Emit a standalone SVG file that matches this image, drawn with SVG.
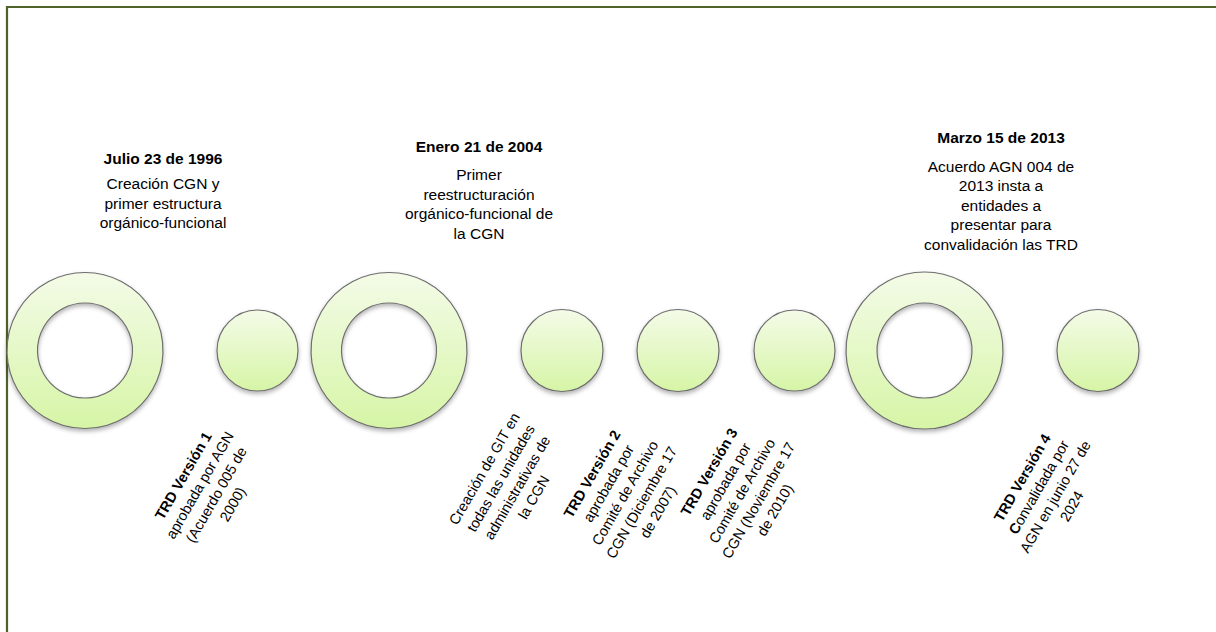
<svg xmlns="http://www.w3.org/2000/svg" width="1216" height="632" viewBox="0 0 1216 632">
<defs>
<linearGradient id="g" x1="0" y1="0" x2="0" y2="1">
<stop offset="0" stop-color="#f4fbe8"/>
<stop offset="1" stop-color="#d6f5a6"/>
</linearGradient>
<filter id="sh" x="-20%" y="-20%" width="140%" height="150%">
<feDropShadow dx="0" dy="2.5" stdDeviation="2" flood-color="#000" flood-opacity="0.3"/>
</filter>
</defs>
<style>
.ring{fill:url(#g);fill-rule:evenodd;stroke:#6e6e6e;stroke-width:1.2;filter:url(#sh)}
.dot{fill:url(#g);stroke:#6e6e6e;stroke-width:1.2;filter:url(#sh)}
text{font-family:"Liberation Sans",Arial,sans-serif;fill:#000;text-anchor:middle}
.h{font-weight:bold;font-size:15.5px}
.b{font-size:15.5px}
.r{font-size:14.5px}
.rb{font-size:14.5px;font-weight:bold}
</style>
<rect width="1216" height="632" fill="#fff"/>
<path d="M7,632 V7 H1216" fill="none" stroke="#4f6228" stroke-width="2.2"/>
<g id="connectors"></g>

<g id="n1">
<path class="ring" d="M85,272.5 a78,78 0 1,0 0.01,0 Z M85,303 a47.5,47.5 0 1,0 0.01,0 Z"/>
<text class="h" x="163" y="164">Julio 23 de 1996</text>
<text class="b" x="163" y="189">Creación CGN y</text>
<text class="b" x="163" y="208.5">primer estructura</text>
<text class="b" x="163" y="228">orgánico-funcional</text>
</g>

<g id="n2">
<circle class="dot" cx="257.5" cy="350.5" r="40.5"/>
<g transform="translate(208,490) rotate(-60)">
<text class="rb" x="0" y="-23.5">TRD Versión 1</text>
<text class="r" x="0" y="-4.5">aprobada por AGN</text>
<text class="r" x="0" y="14.5">(Acuerdo 005 de</text>
<text class="r" x="0" y="33.5">2000)</text>
</g>
</g>

<g id="n3">
<path class="ring" d="M389,272.5 a78,78 0 1,0 0.01,0 Z M389,303 a47.5,47.5 0 1,0 0.01,0 Z"/>
<text class="h" x="479" y="152">Enero 21 de 2004</text>
<text class="b" x="479" y="180">Primer</text>
<text class="b" x="479" y="199.5">reestructuración</text>
<text class="b" x="479" y="219">orgánico-funcional de</text>
<text class="b" x="479" y="238.5">la CGN</text>
</g>

<g id="n4">
<circle class="dot" cx="562" cy="350.5" r="41"/>
<g transform="translate(509,483) rotate(-60)">
<text class="r" x="0" y="-23.5">Creación de GIT en</text>
<text class="r" x="0" y="-4.5">todas las unidades</text>
<text class="r" x="0" y="14.5">administrativas de</text>
<text class="r" x="0" y="33.5">la CGN</text>
</g>
</g>

<g id="n5">
<circle class="dot" cx="678" cy="350.5" r="41"/>
<g transform="translate(625,493) rotate(-60)">
<text class="rb" x="0" y="-33">TRD Versión 2</text>
<text class="r" x="0" y="-14">aprobada por</text>
<text class="r" x="0" y="5">Comité de Archivo</text>
<text class="r" x="0" y="24">CGN (Diciembre 17</text>
<text class="r" x="0" y="43">de 2007)</text>
</g>
</g>

<g id="n6">
<circle class="dot" cx="794.5" cy="350.5" r="40.5"/>
<g transform="translate(742,491) rotate(-60)">
<text class="rb" x="0" y="-33">TRD Versión 3</text>
<text class="r" x="0" y="-14">aprobada por</text>
<text class="r" x="0" y="5">Comité de Archivo</text>
<text class="r" x="0" y="24">CGN (Noviembre 17</text>
<text class="r" x="0" y="43">de 2010)</text>
</g>
</g>

<g id="n7">
<path class="ring" d="M924.5,272 a78.5,78.5 0 1,0 0.01,0 Z M924.5,303 a47.5,47.5 0 1,0 0.01,0 Z"/>
<text class="h" x="1001" y="143">Marzo 15 de 2013</text>
<text class="b" x="1001" y="171.5">Acuerdo AGN 004 de</text>
<text class="b" x="1001" y="191">2013 insta a</text>
<text class="b" x="1001" y="210.5">entidades a</text>
<text class="b" x="1001" y="230">presentar para</text>
<text class="b" x="1001" y="249.5">convalidación las TRD</text>
</g>

<g id="n8">
<circle class="dot" cx="1098" cy="350.5" r="41"/>
<g transform="translate(1047,492) rotate(-60)">
<text class="rb" x="0" y="-23.5">TRD Versión 4</text>
<text class="r" x="0" y="-4.5"><tspan font-weight="bold">C</tspan>onvalidada por</text>
<text class="r" x="0" y="14.5">AGN en junio 27 de</text>
<text class="r" x="0" y="33.5">2024</text>
</g>
</g>
</svg>
